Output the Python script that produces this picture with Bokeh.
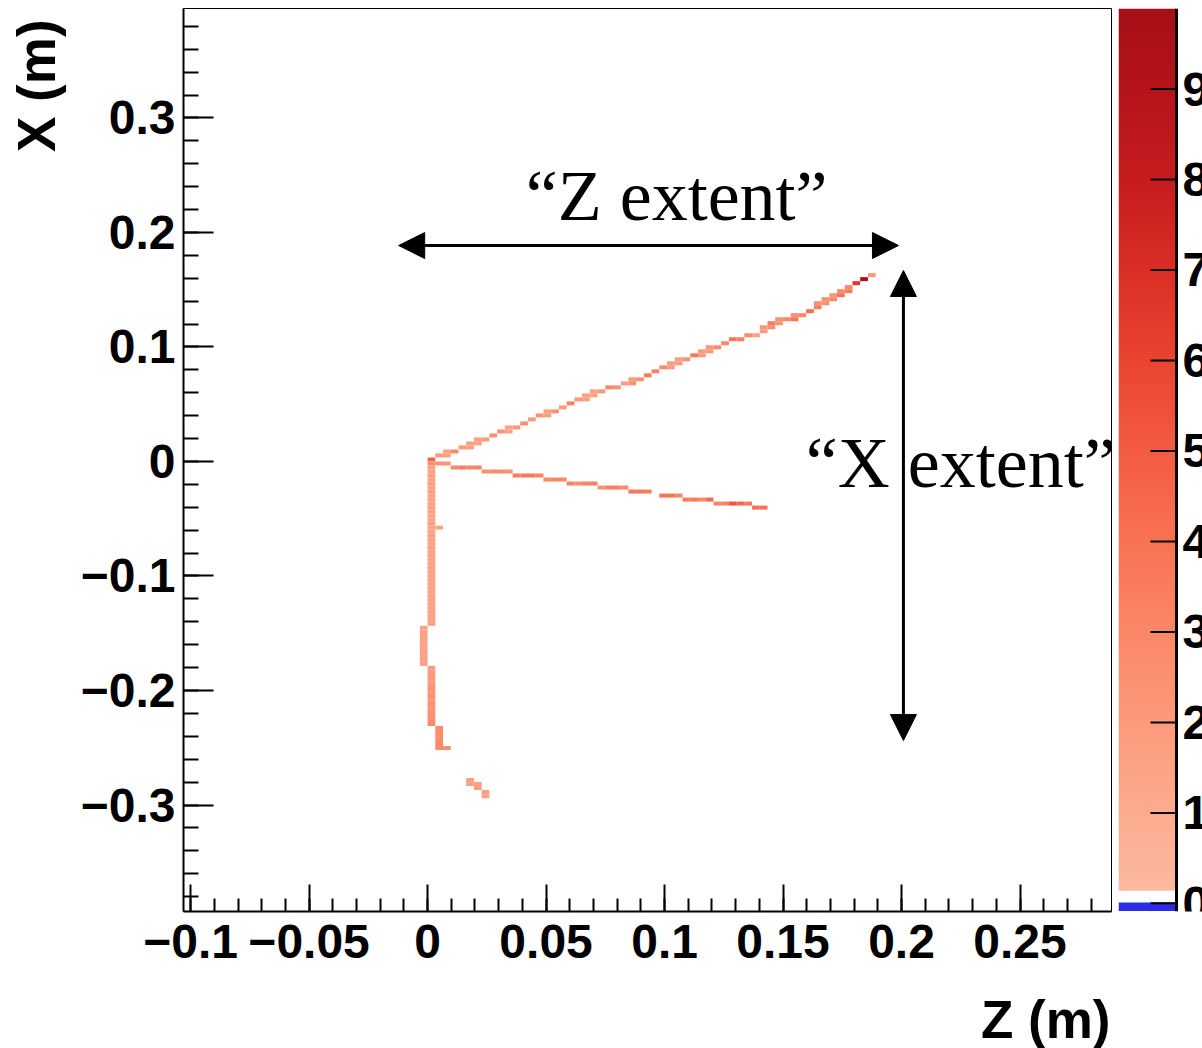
import numpy as np
from bokeh.plotting import figure
from bokeh.models import (Range1d, FixedTicker, CustomJSTickFormatter, Label,
                          Arrow, NormalHead, LinearColorMapper, ColumnDataSource)
from bokeh.layouts import row, column
from bokeh.embed import file_html
from bokeh.resources import INLINE
from bokeh.core.properties import value

# ---------------- histogram binning ----------------
BIN_Z = 0.00326   # bin width along Z (m)
BIN_X = 0.0035    # bin width along X (m)

# upper track cells (Z bin index, X bin index, content)
up_col = [0,1,2,2,3,4,5,5,6,6,7,8,9,10,10,11,12,13,14,15,15,16,17,18,19,20,20,21,21,22,
          23,24,25,26,26,27,28,29,30,31,31,32,32,33,34,35,35,36,36,37,38,39,40,41,42,43,43,44,44,45,
          45,46,47,47,48,49,50,50,51,51,52,52,53,53,54,54,55,56,57]
up_row = [0,1,1,2,2,3,3,4,4,5,5,6,7,7,8,8,9,10,11,11,12,12,13,14,15,15,16,16,17,17,
          18,18,19,19,20,20,21,22,23,23,24,24,25,25,26,26,27,27,28,28,29,30,30,31,31,32,33,33,34,34,
          35,35,35,36,36,37,38,39,39,40,40,41,41,42,42,43,44,45,46]
up_val = [4.5,2.2,1.8,1.6,2.8,2.0,1.6,1.6,1.5,1.7,
          2.2,2.6,2.4,1.6,1.6,2.2,2.6,2.2,2.4,1.8,
          1.6,2.4,2.0,3.2,2.2,1.6,1.6,1.4,1.6,2.2,
          3.0,2.4,1.8,2.6,2.0,2.4,3.6,3.2,2.8,1.8,
          1.8,2.0,1.8,2.6,3.6,2.0,2.0,2.0,2.2,2.8,
          3.0,3.8,3.4,2.8,1.8,2.0,2.2,2.6,3.6,2.4,
          2.4,3.0,4.0,2.6,3.0,4.2,3.6,2.4,2.6,2.4,
          3.0,2.2,4.0,2.8,3.4,3.0,6.5,9.6,2.2]

# lower (short) track cells
lo_col = [1,2,3,4,5,6,7,8,9,10,11,12,13,14,15,16,17,18,19,20,21,22,23,24,25,26,27,28,
          30,31,32,33,34,35,36,37,38,39,40,41,42,43]
lo_row = [-1,-1,-2,-2,-2,-2,-3,-3,-3,-3,-4,-4,-4,-4,-5,-5,-5,-6,-6,-6,-6,-7,-7,-7,-7,-8,-8,-8,
          -9,-9,-9,-10,-10,-10,-10,-11,-11,-11,-11,-11,-12,-12]
lo_val = [2.4,2.2,3.0,3.4,3.0,3.2,2.6,2.8,2.8,2.6,3.4,3.8,3.8,3.2,3.0,3.2,3.0,3.2,2.6,3.4,3.4,
          2.6,3.4,3.4,2.8,3.8,3.8,3.6,4.0,4.0,3.2,3.6,3.8,3.0,4.4,3.2,3.2,5.2,4.6,3.8,4.2,4.0]

# downward track cells
vt_col = [0,0,0,0,0,0,0,0,0,0, 0,0,0,0,0,0,0,0,0,0, 0,0,0,0,0,0,0,0,0,0, 0,0,0,0,0,0,0,0,0,0, 0,
          1,
          -1,-1,-1,-1,-1,-1,-1,-1,-1,-1,
          0,0,0,0,0,0,0,0,0,0,0,0,0,0,0,
          1,1,1,1,1,1,
          2,
          5,5,6,6,7,7]
vt_row = [-1,-2,-3,-4,-5,-6,-7,-8,-9,-10, -11,-12,-13,-14,-15,-16,-17,-18,-19,-20,
          -21,-22,-23,-24,-25,-26,-27,-28,-29,-30, -31,-32,-33,-34,-35,-36,-37,-38,-39,-40, -41,
          -17,
          -42,-43,-44,-45,-46,-47,-48,-49,-50,-51,
          -52,-53,-54,-55,-56,-57,-58,-59,-60,-61,-62,-63,-64,-65,-66,
          -67,-68,-69,-70,-71,-72,
          -72,
          -80,-81,-81,-82,-83,-84]
vt_val = [2.6,1.8,1.6,1.8,1.6,1.7,1.5,1.8,1.6,1.5, 1.7,1.6,1.8,1.5,1.6,1.7,1.5,1.6,1.8,1.6,
          1.5,1.7,1.6,1.8,1.5,1.6,1.7,1.5,1.6,1.8, 1.6,1.7,1.5,1.6,1.8,1.6,1.5,1.7,1.6,1.8, 1.7,
          1.4,
          1.6,1.5,1.7,1.6,1.6,1.5,1.7,1.6,1.8,1.7,
          2.0,1.8,2.2,2.0,1.9,2.4,2.2,2.6,2.0,2.4,2.2,2.6,2.4,2.6,2.8,
          2.6,2.8,2.6,2.8,3.0,2.8,
          2.6,
          1.6,1.6,1.8,1.8,1.6,1.6]

# axis ticks and titles
x_major = [-0.1, -0.05, 0.0, 0.05, 0.1, 0.15, 0.2, 0.25]
y_major = [-0.3, -0.2, -0.1, 0.0, 0.1, 0.2, 0.3]
z_scale_ticks = [0, 1, 2, 3, 4, 5, 6, 7, 8, 9]
z_scale_max = 9.89
x_title = "Z (m)"
y_title = "X (m)"

# annotations
z_arrow = (-0.0122, 0.1987, 0.1886)      # z_start, z_end, x
x_arrow = (0.2008, 0.1668, -0.2437)      # z, x_start, x_end
z_text = (0.1051, 0.2315, "\u201cZ extent\u201d")
x_text = (0.2250, -0.0017, "\u201cX extent\u201d")

# ---------------- layout sizes (pixels) ----------------
TOP_H = 988      # height of the row holding the plot
BOT_H = 60       # strip below, holding the Z axis title
LEFT_W = 70      # strip on the left, holding the X axis title
MAIN_W = 1048
CB_W = 84

# ---------------- colours ----------------
anchor_v = [0, 1, 2, 3, 4, 5, 6, 7, 8, 9, 9.89]
anchor_c = ["#fcbba1", "#fcab8f", "#fc9a7b", "#fb8767", "#f97254", "#f35b42",
            "#ea4431", "#da2e26", "#c71c1f", "#b5141a", "#a50f15"]


def hex2rgb(h):
    return [int(h[i:i + 2], 16) for i in (1, 3, 5)]


rgb = np.array([hex2rgb(c) for c in anchor_c], dtype=float)
grid_v = np.linspace(0, z_scale_max, 256)
palette = []
for v in grid_v:
    r = np.interp(v, anchor_v, rgb[:, 0])
    g = np.interp(v, anchor_v, rgb[:, 1])
    b = np.interp(v, anchor_v, rgb[:, 2])
    palette.append("#%02x%02x%02x" % (int(round(r)), int(round(g)), int(round(b))))
mapper = LinearColorMapper(palette=palette, low=0, high=z_scale_max)

# ---------------- main histogram ----------------
cols = up_col + lo_col + vt_col
rows = up_row + lo_row + vt_row
vals = up_val + lo_val + vt_val
src = ColumnDataSource(dict(
    z=[(c + 0.5) * BIN_Z for c in cols],
    x=[(r + 0.5) * BIN_X for r in rows],
    v=vals,
))

FONT = "Liberation Sans"
p = figure(width=MAIN_W, height=TOP_H,
           x_range=Range1d(-0.1030, 0.2886), y_range=Range1d(-0.3930, 0.3956),
           output_backend="svg", toolbar_location=None,
           min_border_left=183 - LEFT_W, min_border_right=7, min_border_top=8,
           min_border_bottom=TOP_H - 911)
p.xgrid.visible = False
p.ygrid.visible = False
p.outline_line_color = "black"
p.outline_line_width = 1
p.background_fill_color = "white"
p.border_fill_color = "white"

p.rect(x="z", y="x", width=BIN_Z, height=BIN_X, source=src,
       fill_color={"field": "v", "transform": mapper}, line_color=None)

fmt = CustomJSTickFormatter(code="""
var s = (Math.round(tick*100)/100).toString();
return s.replace('-', '\\u2212');
""")

p.xaxis.ticker = FixedTicker(ticks=x_major, minor_ticks=list(np.round(np.arange(-0.10, 0.2801, 0.01), 3)))
p.yaxis.ticker = FixedTicker(ticks=y_major, minor_ticks=list(np.round(np.arange(-0.38, 0.3801, 0.02), 3)))
for ax, tin, mtin, stand in ((p.xaxis, 27, 13, 13), (p.yaxis, 30, 15, 8)):
    ax.formatter = fmt
    ax.axis_line_width = 2
    ax.axis_line_color = "black"
    ax.major_tick_line_width = 2
    ax.minor_tick_line_width = 2
    ax.major_tick_in = tin
    ax.major_tick_out = 0
    ax.minor_tick_in = mtin
    ax.minor_tick_out = 0
    ax.major_label_text_font = FONT
    ax.major_label_text_font_style = "bold"
    ax.major_label_text_font_size = "48px"
    ax.major_label_text_color = "black"
    ax.major_label_standoff = stand

p.add_layout(Arrow(start=NormalHead(size=26, fill_color="black", line_color="black"),
                   end=NormalHead(size=26, fill_color="black", line_color="black"),
                   x_start=z_arrow[0], y_start=z_arrow[2], x_end=z_arrow[1], y_end=z_arrow[2],
                   line_width=3, line_color="black"))
p.add_layout(Arrow(start=NormalHead(size=26, fill_color="black", line_color="black"),
                   end=NormalHead(size=26, fill_color="black", line_color="black"),
                   x_start=x_arrow[0], y_start=x_arrow[1], x_end=x_arrow[0], y_end=x_arrow[2],
                   line_width=3, line_color="black"))
for tx in (z_text, x_text):
    p.add_layout(Label(x=tx[0], y=tx[1], text=tx[2], text_align="center",
                       text_baseline="alphabetic", text_font="Liberation Serif",
                       text_font_size="72px", text_color="black"))


def blank(width, height, xr, yr):
    f = figure(width=width, height=height, x_range=xr, y_range=yr,
               output_backend="svg", toolbar_location=None,
               x_axis_location=None, y_axis_location=None,
               min_border_left=0, min_border_right=0, min_border_top=0, min_border_bottom=0)
    f.outline_line_color = None
    f.grid.visible = False
    f.background_fill_color = "white"
    f.border_fill_color = "white"
    return f


# ---------------- Y axis title strip ----------------
lt = blank(LEFT_W, TOP_H, Range1d(0, LEFT_W), Range1d(TOP_H, 0))
lt.text(x=[36], y=[12], text=[y_title], angle=np.pi / 2, text_align="right",
        text_baseline="alphabetic", text_font=value(FONT), text_font_style="bold",
        text_font_size="53px", text_color="black")

# ---------------- colour scale ----------------
cb = figure(width=CB_W, height=TOP_H, x_range=Range1d(0, CB_W), y_range=Range1d(-0.09, z_scale_max),
            output_backend="svg", toolbar_location=None, x_axis_location=None, y_axis_location=None,
            min_border_left=0, min_border_right=0, min_border_top=8, min_border_bottom=TOP_H - 911)
cb.outline_line_color = None
cb.grid.visible = False
cb.background_fill_color = "white"
cb.border_fill_color = "white"

grad = np.linspace(0.14, z_scale_max, 800).reshape(-1, 1)
cb.image(image=[grad], x=0, y=0.14, dw=58, dh=z_scale_max - 0.14, color_mapper=mapper)
cb.quad(left=[0], right=[58], bottom=[-0.085], top=[0.01], fill_color="#2b2be8", line_color=None)
cb.segment(x0=[58], y0=[-0.09], x1=[58], y1=[z_scale_max], line_color="black", line_width=3)
cb.segment(x0=[32] * len(z_scale_ticks), y0=z_scale_ticks, x1=[58] * len(z_scale_ticks),
           y1=z_scale_ticks, line_color="black", line_width=2)
cb.text(x=[64] * len(z_scale_ticks), y=z_scale_ticks, text=[str(t) for t in z_scale_ticks],
        text_baseline="middle", text_align="left", text_font=value(FONT),
        text_font_style="bold", text_font_size="48px", text_color="black")

# ---------------- X axis title strip ----------------
bt = blank(LEFT_W + MAIN_W + CB_W, BOT_H, Range1d(0, LEFT_W + MAIN_W + CB_W), Range1d(BOT_H, 0))
bt.text(x=[1110], y=[31], text=[x_title], text_align="right", text_baseline="alphabetic",
        text_font=value(FONT), text_font_style="bold", text_font_size="53px", text_color="black")

layout = column(row(lt, p, cb), bt)
open("out.html", "w").write(file_html(layout, INLINE))
